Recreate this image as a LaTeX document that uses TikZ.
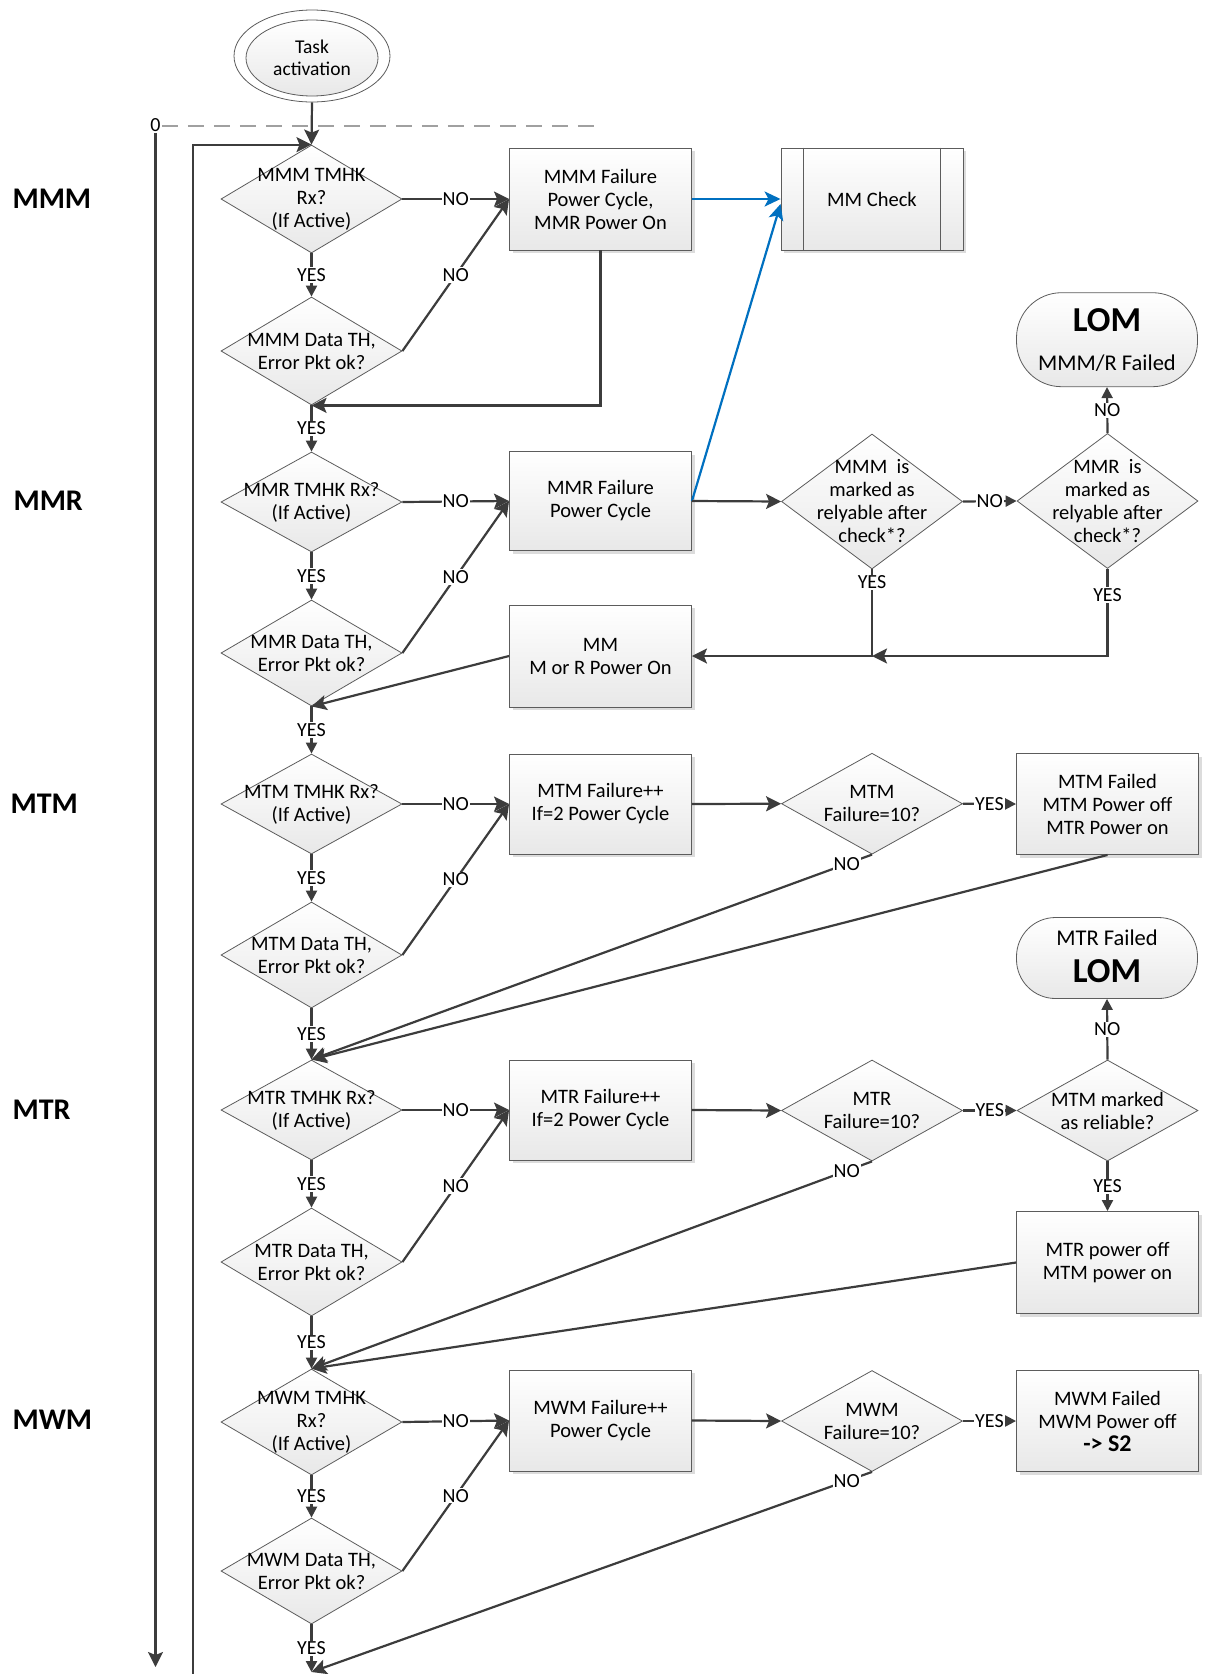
\documentclass[tikz,border=0pt]{standalone}
\usepackage{fontspec}
\setmainfont{Carlito}
\usetikzlibrary{arrows.meta,shapes.geometric,shadows}
\definecolor{lnc}{HTML}{3C3C3C}
\definecolor{bdr}{HTML}{5C5C5C}
\definecolor{flowblue}{HTML}{0070C0}
\definecolor{dashgray}{HTML}{A0A0A0}
\begin{document}
\begin{tikzpicture}[x=1pt,y=-1pt,
  every node/.style={font=\fontsize{20.5}{23}\selectfont},
  proc/.style={rectangle, draw=bdr, line width=0.9pt, top color=white, bottom color=black!9,
    minimum width=182pt, minimum height=101pt, align=center, inner sep=2pt,
    drop shadow={shadow xshift=3pt, shadow yshift=-3pt, fill=black!30, opacity=0.45}},
  dec/.style={diamond, draw=bdr, line width=0.8pt, top color=white, bottom color=black!9,
    minimum width=181pt, minimum height=#1, inner sep=0pt},
  dtxt/.style={align=center, inner sep=0pt},
  term/.style={rectangle, draw=bdr, line width=0.8pt, top color=white, bottom color=black!9,
    minimum width=181pt, inner sep=0pt},
  lane/.style={anchor=west, font=\fontsize{30}{32}\selectfont\bfseries},
  termtxt/.style={inner sep=0pt, font=\fontsize{22.5}{24}\selectfont},
  lomtxt/.style={inner sep=0pt, font=\fontsize{35}{37}\selectfont\bfseries},
  ln/.style={draw=lnc, line width=2.2pt},
  bigtip/.style={ln, -{Stealth[length=15pt,width=15pt,inset=3pt]}},
  smalltip/.style={ln, -{Triangle[length=11pt,width=11pt]}},
  lbl/.style={fill=white, inner sep=1pt, font=\fontsize{20}{22}\selectfont},
  bluearrow/.style={draw=flowblue, line width=2.2pt, -{Stealth[length=16pt,width=15pt,inset=4pt]}}
]
\useasboundingbox (0,0) rectangle (1205,1674);

% lane titles
\node[lane] (lmmm) at (9,199) {MMM};
\node[lane] (lmmr) at (10,501) {MMR};
\node[lane] (lmtm) at (7,804) {MTM};
\node[lane] (lmtr) at (9,1110) {MTR};
\node[lane] (lmwm) at (9,1420) {MWM};

% start
\node[ellipse, draw=bdr, line width=0.8pt, fill=white, minimum width=156pt, minimum height=92pt, inner sep=0pt] (ta0) at (312,56) {};
\node[ellipse, draw=bdr, line width=0.8pt, top color=white, bottom color=black!9, minimum width=132pt, minimum height=76pt, inner sep=0pt, align=center, font=\fontsize{19.5}{22}\selectfont] (ta) at (312,58) {Task\\activation};

% time axis and loop-back line
\node[inner sep=1pt, font=\fontsize{20}{22}\selectfont] (zero) at (155.5,125) {0};
\coordinate (dend) at (598,126);
\draw[draw=dashgray, line width=2pt, dash pattern=on 16pt off 10pt] (zero.east |- dend) -- (dend);
\coordinate (lend) at (155.5,1667);
\draw[bigtip] (zero.south) -- (lend);

% column of checks
\node[dec=108pt] (d1) at (311.5,199) {};
\node[dtxt] (d1t) at (d1) {MMM TMHK\\Rx?\\(If Active)};
\node[dec=108pt] (d2) at (311.5,351) {};
\node[dtxt] (d2t) at (d2) {MMM Data TH,\\Error Pkt ok?};
\node[dec=100pt] (d3) at (311.5,502) {};
\node[dtxt] (d3t) at (d3) {MMR TMHK Rx?\\(If Active)};
\node[dec=106pt] (d4) at (311.5,653) {};
\node[dtxt] (d4t) at (d4) {MMR Data TH,\\Error Pkt ok?};
\node[dec=100pt] (d5) at (311.5,804) {};
\node[dtxt] (d5t) at (d5) {MTM TMHK Rx?\\(If Active)};
\node[dec=106pt] (d6) at (311.5,955) {};
\node[dtxt] (d6t) at (d6) {MTM Data TH,\\Error Pkt ok?};
\node[dec=100pt] (d7) at (311.5,1110) {};
\node[dtxt] (d7t) at (d7) {MTR TMHK Rx?\\(If Active)};
\node[dec=108pt] (d8) at (311.5,1262) {};
\node[dtxt] (d8t) at (d8) {MTR Data TH,\\Error Pkt ok?};
\node[dec=106pt] (d9) at (311.5,1422) {};
\node[dtxt] (d9t) at (d9) {MWM TMHK\\Rx?\\(If Active)};
\node[dec=106pt] (d10) at (311.5,1571) {};
\node[dtxt] (d10t) at (d10) {MWM Data TH,\\Error Pkt ok?};
\coordinate (endpt) at (311.5,1672);

% failure handling boxes
\node[proc, minimum height=102pt] (b1) at (600.5,199) {MMM Failure\\Power Cycle,\\MMR Power On};
\node[proc, minimum height=99pt] (b2) at (600.5,501) {MMR Failure\\Power Cycle};
\node[proc, minimum height=102pt] (b3) at (600.5,656) {MM\\M or R Power On};
\node[proc, minimum height=100pt] (b4) at (600.5,804) {MTM Failure++\\If=2 Power Cycle};
\node[proc, minimum height=100pt] (b5) at (600.5,1110) {MTR Failure++\\If=2 Power Cycle};
\node[proc, minimum height=101pt] (b6) at (600.5,1420.5) {MWM Failure++\\Power Cycle};

% predefined process
\node[proc, minimum height=102pt] (mmc) at (872,199) {MM Check};
\draw[draw=bdr, line width=0.9pt] ([xshift=23pt]mmc.north west) -- ([xshift=23pt]mmc.south west);
\draw[draw=bdr, line width=0.9pt] ([xshift=-23pt]mmc.north east) -- ([xshift=-23pt]mmc.south east);

% second-level decisions
\node[dec=135pt] (dc1) at (872,501.5) {};
\node[dtxt] (dc1t) at (dc1) {MMM~~is\\marked as\\relyable after\\check*?};
\node[dec=135pt] (dd1) at (1107.5,501) {};
\node[dtxt] (dd1t) at (dd1) {MMR~~is\\marked as\\relyable after\\check*?};
\node[dec=101pt] (dc2) at (872,803.7) {};
\node[dtxt] (dc2t) at (dc2) {MTM\\Failure=10?};
\node[dec=101pt] (dc3) at (872,1110.5) {};
\node[dtxt] (dc3t) at (dc3) {MTR\\Failure=10?};
\node[dec=101pt] (dd2) at (1107.5,1110.5) {};
\node[dtxt] (dd2t) at (dd2) {MTM marked\\as reliable?};
\node[dec=101pt] (dc4) at (872,1421) {};
\node[dtxt] (dc4t) at (dc4) {MWM\\Failure=10?};

% outcomes
\node[term, minimum height=94pt, rounded corners=45pt] (lom1) at (1107,339.7) {};
\node[lomtxt] (lom1a) at (1107,320) {LOM};
\node[termtxt] (lom1b) at (1107,363) {MMM/R Failed};
\node[term, minimum height=81pt, rounded corners=39pt] (lom2) at (1107,958) {};
\node[termtxt] (lom2a) at (1107,937.3) {MTR Failed};
\node[lomtxt] (lom2b) at (1107,971) {LOM};
\node[proc, minimum height=101pt] (mtmf) at (1107.5,804) {MTM Failed\\MTM Power off\\MTR Power on};
\node[proc, minimum height=102pt] (mtro) at (1107.5,1262.5) {MTR power off\\MTM power on};
\node[proc, minimum height=101pt] (mwmf) at (1107.5,1421) {MWM Failed\\MWM Power off\\{\fontsize{24}{24}\selectfont\bfseries -> S2}};

% entry and loop-back
\draw[bigtip] (ta0.south) -- (d1.north);
\coordinate (lbot) at (193,1674);
\draw[bigtip] (lbot) |- (d1.north);

% MMM lane
\draw[bigtip] (d1.east) -- node[lbl] (n1) {NO} (b1.west);
\draw[smalltip] (d1.south) -- node[lbl] (y1) {YES} (d2.north);
\draw[bigtip] (d2.east) -- node[lbl] (n2) {NO} (b1.west);
\draw[bigtip] (b1.south) |- (d2.south);
\draw[smalltip] (d2.south) -- node[lbl] (y2) {YES} (d3.north);
\draw[bluearrow] (b1.east) -- (mmc.west);

% MMR lane
\draw[bigtip] (d3.east) -- node[lbl] (n3) {NO} (b2.west);
\draw[smalltip] (d3.south) -- node[lbl] (y3) {YES} (d4.north);
\draw[bigtip] (d4.east) -- node[lbl] (n4) {NO} (b2.west);
\draw[bluearrow] (b2.east) -- ([yshift=-5pt]mmc.west);
\draw[bigtip] (b2.east) -- (dc1.west);
\draw[smalltip] (dc1.east) -- node[lbl] (n5) {NO} (dd1.west);
\draw[smalltip] (dd1.north) -- node[lbl] (n6) {NO} (lom1.south);
\coordinate (j1) at (872,656);
\draw[bigtip] (dc1.south) -- node[lbl, pos=0.15] (y4) {YES} (j1) -- (b3.east);
\draw[bigtip] (dd1.south) -- node[lbl, pos=0.3] (y5) {YES} (dd1.south |- j1) -- (j1);
\draw[bigtip] (b3.west) -- (d4.south);
\draw[smalltip] (d4.south) -- node[lbl] (y6) {YES} (d5.north);

% MTM lane
\draw[bigtip] (d5.east) -- node[lbl] (n7) {NO} (b4.west);
\draw[smalltip] (d5.south) -- node[lbl] (y7) {YES} (d6.north);
\draw[bigtip] (d6.east) -- node[lbl] (n8) {NO} (b4.west);
\draw[bigtip] (b4.east) -- (dc2.west);
\draw[smalltip] (dc2.east) -- node[lbl] (y8) {YES} (mtmf.west);
\draw[bigtip] (dc2.south) -- node[lbl, pos=0.045] (n9) {NO} (d7.north);
\draw[bigtip] (mtmf.south) -- (d7.north);
\draw[smalltip] (d6.south) -- node[lbl] (y9) {YES} (d7.north);

% MTR lane
\draw[bigtip] (d7.east) -- node[lbl] (n10) {NO} (b5.west);
\draw[smalltip] (d7.south) -- node[lbl] (y10) {YES} (d8.north);
\draw[bigtip] (d8.east) -- node[lbl] (n11) {NO} (b5.west);
\draw[bigtip] (b5.east) -- (dc3.west);
\draw[smalltip] (dc3.east) -- node[lbl] (y11) {YES} (dd2.west);
\draw[smalltip] (dd2.north) -- node[lbl] (n12) {NO} (lom2.south);
\draw[smalltip] (dd2.south) -- node[lbl] (y12) {YES} (mtro.north);
\draw[bigtip] (dc3.south) -- node[lbl, pos=0.045] (n13) {NO} (d9.north);
\draw[bigtip] (mtro.west) -- (d9.north);
\draw[smalltip] (d8.south) -- node[lbl] (y13) {YES} (d9.north);

% MWM lane
\draw[bigtip] (d9.east) -- node[lbl] (n14) {NO} (b6.west);
\draw[smalltip] (d9.south) -- node[lbl] (y14) {YES} (d10.north);
\draw[bigtip] (d10.east) -- node[lbl] (n15) {NO} (b6.west);
\draw[bigtip] (b6.east) -- (dc4.west);
\draw[smalltip] (dc4.east) -- node[lbl] (y15) {YES} (mwmf.west);
\draw[bigtip] (dc4.south) -- node[lbl, pos=0.045] (n16) {NO} (endpt);
\draw[smalltip] (d10.south) -- node[lbl] (y16) {YES} (endpt);
\end{tikzpicture}
\end{document}
